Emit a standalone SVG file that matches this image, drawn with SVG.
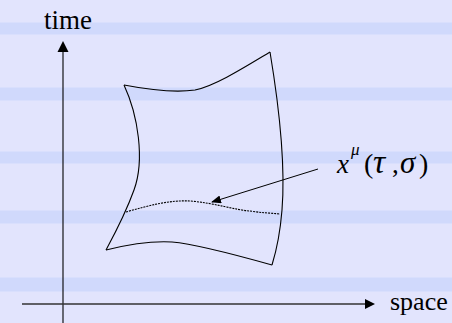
<svg xmlns="http://www.w3.org/2000/svg" width="452" height="323" viewBox="0 0 452 323">
<defs>
<style>
.stripe{fill:#d0d9fc}
.edge{fill:#d9dffd}
.sheet{fill:none;stroke:#000;stroke-width:1.1}
.axis{stroke:#000;stroke-width:1.1;fill:none}
.lbl{font-family:'Liberation Serif','DejaVu Serif','Times New Roman',serif;fill:#000}
</style>
<marker id="ah" markerWidth="10" markerHeight="8" refX="9" refY="4" orient="auto" markerUnits="userSpaceOnUse">
<path d="M0,0 L10,4 L0,8 Z" fill="#000"/>
</marker>
</defs>
<rect x="0" y="0" width="452" height="323" fill="#e2e4fd"/>
<g id="stripes">
<rect class="edge" x="0" y="22" width="452" height="13"/>
<rect class="stripe" x="0" y="23" width="452" height="11"/>
<rect class="edge" x="0" y="87" width="452" height="14"/>
<rect class="stripe" x="0" y="88" width="452" height="12"/>
<rect class="edge" x="0" y="151" width="452" height="13"/>
<rect class="stripe" x="0" y="152" width="452" height="11"/>
<rect class="edge" x="0" y="210" width="452" height="14"/>
<rect class="stripe" x="0" y="211" width="452" height="12"/>
<rect class="edge" x="0" y="277" width="452" height="15"/>
<rect class="stripe" x="0" y="278" width="452" height="13"/>
</g>
<g id="time-axis">
<line class="axis" x1="63" y1="323" x2="63" y2="51"/>
<path d="M57.5,52 L63,41 L68.5,52 Z" fill="#000"/>
<text class="lbl" x="44" y="29" font-size="27">time</text>
</g>
<g id="space-axis">
<line x1="22" y1="304" x2="366" y2="304" stroke="#333" stroke-width="1.3"/>
<path d="M365,299 L375,304 L365,309 Z" fill="#000"/>
<text class="lbl" x="390" y="310" font-size="26">space</text>
</g>
<g id="worldsheet">
<path class="sheet" d="M124,85 C150,90 175,93 195,90 C215,86 245,67 270,52"/>
<path class="sheet" d="M124,85 C138,115 145,160 134,190 C125,215 113,237 106,250"/>
<path class="sheet" d="M270,52 C278,100 286,160 282,210 C280,235 276,252 272,265"/>
<path class="sheet" d="M106,250 C130,244 155,241 172,242 C195,244 240,256 272,265"/>
<path class="sheet" stroke-dasharray="2,1" stroke-width="1" d="M126,212 C150,205 170,200 190,201 C215,203 235,210 250,211 C262,213 272,213 280,214"/>
</g>
<g id="connectors">
<line x1="318" y1="169" x2="212" y2="202" stroke="#000" stroke-width="1" marker-end="url(#ah)"/>
</g>
<g id="label-x">
<text class="lbl" y="173" font-size="27"><tspan x="337" font-style="italic">x</tspan><tspan x="351" y="155" font-style="italic" font-size="17">μ</tspan><tspan x="364" y="173" font-size="28">(</tspan><tspan x="373" font-style="italic" font-size="34">τ</tspan><tspan x="392">,</tspan><tspan x="400" font-style="italic" font-size="31">σ</tspan><tspan x="419" font-size="28">)</tspan></text>
</g>
</svg>
